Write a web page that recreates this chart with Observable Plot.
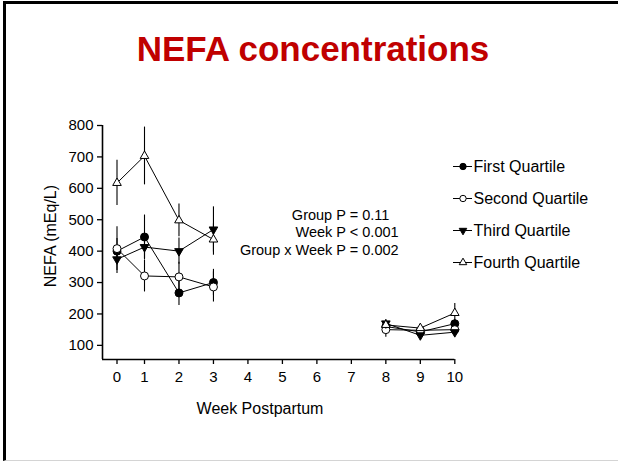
<!DOCTYPE html>
<html>
<head>
<meta charset="utf-8">
<script src="https://cdn.jsdelivr.net/npm/d3@7"></script>
<script src="https://cdn.jsdelivr.net/npm/@observablehq/plot@0.6"></script>
<style>
  html, body { margin: 0; padding: 0; background: #fff; }
  #page { position: relative; width: 618px; height: 462px; overflow: hidden; font-family: "Liberation Sans", Arial, sans-serif; }
  #frame { position: absolute; left: 3px; top: 1px; width: 640px; height: 456px; border-left: 3px solid #000; border-top: 3px solid #000; border-bottom: 1px solid #d4d4d4; }
  #title { position: absolute; left: 4px; top: 31px; width: 618px; text-align: center; font-size: 35px; line-height: 35px; font-weight: bold; color: #c00000; }
  .layer { position: absolute; left: 0; top: 0; }
</style>
</head>
<body>
<div id="page">
  <div id="frame"></div>
  <div id="title">NEFA concentrations</div>
  <div id="chart" class="layer"></div>
  <div id="legend" class="layer"></div>
</div>
<script>
// ---- data ----
const weeks = [0, 1, 2, 3, 8, 9, 10];
const seriesNames = ["First Quartile", "Second Quartile", "Third Quartile", "Fourth Quartile"];
const firstQ    = [400, 445, 267, 300, 160, 143, 169];
const firstSE   = [ 40,  70,  40,  42,  12,  10,  14];
const secondQ   = [408, 321, 318, 286, 150, 148, 150];
const secondSE  = [ 70,  51,  47,  48,  24,  12,  12];
const thirdQ    = [374, 413, 400, 469, 170, 132, 142];
const thirdSE   = [ 45,  40,  42,  72,  12,  10,  10];
const fourthQ   = [617, 703, 498, 437, 165, 155, 203];
const fourthSE  = [ 72,  92,  52,  50,  15,  12,  30];
const yTicks = [100, 200, 300, 400, 500, 600, 700, 800];
const xTicks = [0, 1, 2, 3, 4, 5, 6, 7, 8, 9, 10];
const statsLines = ["Group P = 0.11", "Week P < 0.001", "Group x Week P = 0.002"];
const yLabel = "NEFA (mEq/L)";
const xLabel = "Week Postpartum";

const values = [firstQ, secondQ, thirdQ, fourthQ];
const errors = [firstSE, secondSE, thirdSE, fourthSE];
const rows = [];
seriesNames.forEach((s, i) => {
  weeks.forEach((w, j) => {
    rows.push({series: s, week: w, value: values[i][j], se: errors[i][j], seg: s + (w <= 3 ? "-a" : "-b")});
  });
});

const styles = {
  "First Quartile":  {symbol: "circle",   fill: "black", r: 4,   rotate: 0},
  "Second Quartile": {symbol: "circle",   fill: "white", r: 4,   rotate: 0},
  "Third Quartile":  {symbol: "triangle", fill: "black", r: 3.2, rotate: 180},
  "Fourth Quartile": {symbol: "triangle", fill: "white", r: 3.2, rotate: 0}
};

const font = "Liberation Sans, Arial, sans-serif";

const dotMarks = seriesNames.map(s => Plot.dot(rows.filter(d => d.series === s), {
  x: "week", y: "value", symbol: styles[s].symbol, fill: styles[s].fill, r: styles[s].r,
  rotate: styles[s].rotate, stroke: "black", strokeWidth: 1
}));

const chart = Plot.plot({
  width: 618, height: 462,
  marginLeft: 102, marginRight: 164, marginTop: 125, marginBottom: 103,
  style: {fontFamily: font, background: "transparent", overflow: "visible"},
  x: {type: "linear", domain: [-0.5, 0, 1, 10], range: [102, 116.5, 144, 454.3]},
  y: {type: "linear", domain: [55, 800], range: [359, 125]},
  marks: [
    Plot.axisY({ticks: yTicks, tickSize: 5, tickPadding: 4, fontSize: 15, label: null, strokeWidth: 1.3}),
    Plot.axisX({ticks: xTicks, tickSize: 5, tickPadding: 7, fontSize: 15, label: null, strokeWidth: 1.3}),
    Plot.ruleX([-0.5], {y1: 55, y2: 800, stroke: "black", strokeWidth: 1.6}),
    Plot.ruleY([55], {x1: -0.5, x2: 10, stroke: "black", strokeWidth: 1.6}),
    Plot.ruleX(rows, {x: "week", y1: d => d.value - d.se, y2: d => d.value + d.se, stroke: "black", strokeWidth: 1.1}),
    Plot.line(rows, {x: "week", y: "value", z: "seg", stroke: "black", strokeWidth: 1}),
    ...dotMarks,
    Plot.text([yLabel], {x: -0.5, y: 448, dx: -52, rotate: -90, text: d => d, fontSize: 16, fill: "black"}),
    Plot.text([xLabel], {x: 4.35, y: 55, dy: 49, text: d => d, fontSize: 16, fill: "black"}),
    Plot.text([statsLines[0]], {x: 8.1, y: 513, text: d => d, textAnchor: "end", fontSize: 14.5, fill: "black"}),
    Plot.text([statsLines[1]], {x: 8.37, y: 459, text: d => d, textAnchor: "end", fontSize: 14.5, fill: "black"}),
    Plot.text([statsLines[2]], {x: 8.37, y: 402, text: d => d, textAnchor: "end", fontSize: 14.5, fill: "black"})
  ]
});
document.getElementById("chart").appendChild(chart);

const legend = Plot.plot({
  width: 618, height: 462,
  style: {fontFamily: font, background: "transparent", overflow: "visible"},
  x: {type: "linear", domain: [0, 1], range: [453, 472], axis: null},
  y: {type: "point", domain: seriesNames, range: [166, 262], padding: 0, axis: null},
  marks: [
    Plot.ruleY(seriesNames, {y: d => d, x1: 0, x2: 1, stroke: "black", strokeWidth: 1}),
    ...seriesNames.map(s => Plot.dot([s], {x: 0.5, y: d => d, symbol: styles[s].symbol, fill: styles[s].fill,
      r: styles[s].symbol === "circle" ? 3.2 : 2.8, rotate: styles[s].rotate, stroke: "black", strokeWidth: 1})),
    Plot.text(seriesNames, {x: 1, y: d => d, dx: 1, text: d => d, textAnchor: "start", fontSize: 16, fill: "black"})
  ]
});
document.getElementById("legend").appendChild(legend);
</script>
</body>
</html>
